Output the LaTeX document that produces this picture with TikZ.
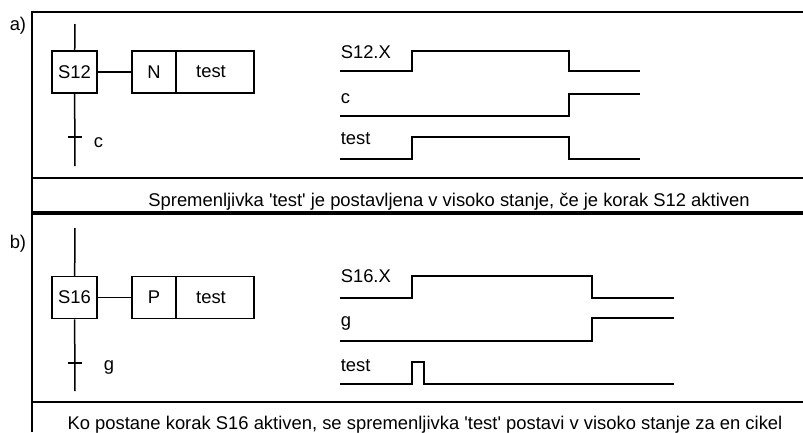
\documentclass[tikz,border=0pt]{standalone}
\usepackage{fontspec}
\setmainfont{Liberation Sans}
\begin{document}
\begin{tikzpicture}[x=1pt, y=-1pt, line width=1.5pt,
  font=\fontsize{18.4}{22}\selectfont,
  stepbox/.style={draw, minimum width=45pt, minimum height=42pt, inner sep=0pt},
  qualbox/.style={draw, minimum width=44pt, minimum height=42pt, inner sep=0pt},
  actbox/.style={draw, minimum width=78pt, minimum height=42pt, inner sep=0pt},
  lbl/.style={anchor=base west, inner sep=0pt},
  caption/.style={anchor=base, inner sep=0pt},
  wave/.style={line width=1.5pt},
  frame/.style={line width=1.6pt}]
\useasboundingbox (0,0) rectangle (803,432);

% ---------- part a) ----------
\node[lbl] (la) at (9,30) {a)};
\draw[frame] (803,12) -- (32,12) -- (32,212) -- (803,212);
\draw[frame] (32,178) -- (803,178);

\node[stepbox] (s12) at (74.5,72) {S12};
\node[qualbox] (n12) at (154,72) {N};
\node[actbox]  (t12) at (215,72) {\hspace*{-8pt}test};
\coordinate (s12top) at (75,24);
\coordinate (s12bot) at (75,166);
\coordinate (tr12) at (75,137);
\draw (s12top) -- (s12);
\draw (s12) -- (s12bot);
\draw (s12) -- (n12);
\draw ([xshift=-7pt]tr12) -- ([xshift=7pt]tr12);
\node[lbl] (c12) at (93,147) {c};

\node[lbl] (wa1) at (340,58) {S12.X};
\node[lbl] (wa2) at (340,103) {c};
\node[lbl] (wa3) at (340,144) {test};
\draw[wave] (340,71) -- (412,71) -- (412,51) -- (569,51) -- (569,71) -- (640,71);
\draw[wave] (340,116) -- (569,116) -- (569,94) -- (640,94);
\draw[wave] (340,159) -- (412,159) -- (412,137) -- (569,137) -- (569,159) -- (640,159);

\node[caption] (capa) at (449,206) {Spremenljivka \textquotesingle test\textquotesingle\ je postavljena v visoko stanje, če je korak S12 aktiven};

% ---------- part b) ----------
\node[lbl] (lb) at (9,248) {b)};
\draw[frame] (32,432) -- (32,214) -- (803,214);
\draw[frame] (32,402) -- (803,402);

\node[stepbox] (s16) at (74.5,297.5) {S16};
\node[qualbox] (p16) at (154,297.5) {P};
\node[actbox]  (t16) at (215,297.5) {\hspace*{-8pt}test};
\coordinate (s16top) at (75,228);
\coordinate (s16bot) at (75,391);
\coordinate (tr16) at (75,363);
\draw (s16top) -- (s16);
\draw (s16) -- (s16bot);
\draw (s16) -- (p16);
\draw ([xshift=-7pt]tr16) -- ([xshift=7pt]tr16);
\node[lbl] (g16) at (103,370) {g};

\node[lbl] (wb1) at (340,282) {S16.X};
\node[lbl] (wb2) at (340,326) {g};
\node[lbl] (wb3) at (340,371) {test};
\draw[wave] (340,298) -- (412,298) -- (412,276) -- (592,276) -- (592,298) -- (674,298);
\draw[wave] (340,341) -- (592,341) -- (592,318) -- (674,318);
\draw[wave] (340,384) -- (412,384) -- (412,362) -- (424,362) -- (424,384) -- (674,384);

\node[caption] (capb) at (425,429) {Ko postane korak S16 aktiven, se spremenljivka \textquotesingle test\textquotesingle\ postavi v visoko stanje za en cikel};
\end{tikzpicture}
\end{document}
